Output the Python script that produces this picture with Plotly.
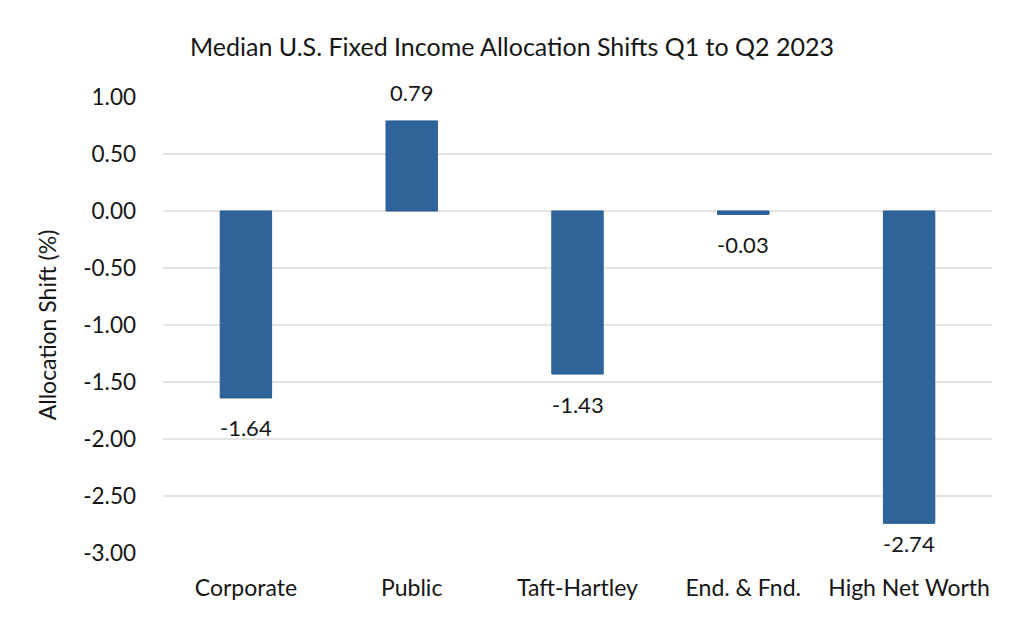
import plotly.graph_objects as go

categories = ["Corporate", "Public", "Taft-Hartley", "End. & Fnd.", "High Net Worth"]
values = [-1.64, 0.79, -1.43, -0.03, -2.74]
tick_vals = [1.0, 0.5, 0.0, -0.5, -1.0, -1.5, -2.0, -2.5, -3.0]
tick_text = ["1.00", "0.50", "0.00", "-0.50", "-1.00", "-1.50", "-2.00", "-2.50", "-3.00"]

FONT = "Lato, Open Sans, sans-serif"
TXT = "#161616"
Y_MIN, Y_MAX = -3, 1
PX_PER_UNIT = 456 / (Y_MAX - Y_MIN)

fig = go.Figure(go.Bar(
    x=categories,
    y=values,
    width=0.31,
    marker=dict(color="#2E6499", line=dict(color="#2A5C8E", width=1)),
    hoverinfo="x+y",
))

# data labels outside bar end; kept inside the plot area near the bottom
for c, v in zip(categories, values):
    if v >= 0:
        shift = 28
    else:
        shift = max(-30, (Y_MIN - v) * PX_PER_UNIT + 10)
    fig.add_annotation(x=c, y=v, yshift=shift, text=f"{v:.2f}", showarrow=False,
                       yanchor="middle",
                       font=dict(family=FONT, size=22, color=TXT))

fig.update_layout(
    width=1008, height=620,
    margin=dict(l=155, r=24, t=89, b=75),
    paper_bgcolor="white",
    plot_bgcolor="white",
    title=dict(text="Median U.S. Fixed Income Allocation Shifts Q1 to Q2 2023",
               x=0.5, xanchor="center", y=0.937, yanchor="middle",
               font=dict(family=FONT, size=25, color=TXT)),
    font=dict(family=FONT, color=TXT),
    showlegend=False,
)
fig.update_xaxes(showgrid=False, showline=False, ticks="",
                 tickfont=dict(size=23, family=FONT, color=TXT),
                 ticklabelstandoff=19)
fig.update_yaxes(range=[Y_MIN, Y_MAX], tickvals=tick_vals, ticktext=tick_text,
                 showgrid=True, gridcolor="#e3e3e3", gridwidth=1.5,
                 zeroline=True, zerolinecolor="#e3e3e3", zerolinewidth=1.5,
                 showline=False, ticks="", ticklabelstandoff=26,
                 tickfont=dict(size=22.5, family=FONT, color=TXT),
                 title=dict(text="Allocation Shift (%)", standoff=20,
                            font=dict(size=23, family=FONT, color=TXT)))

fig.write_html("out.html")
